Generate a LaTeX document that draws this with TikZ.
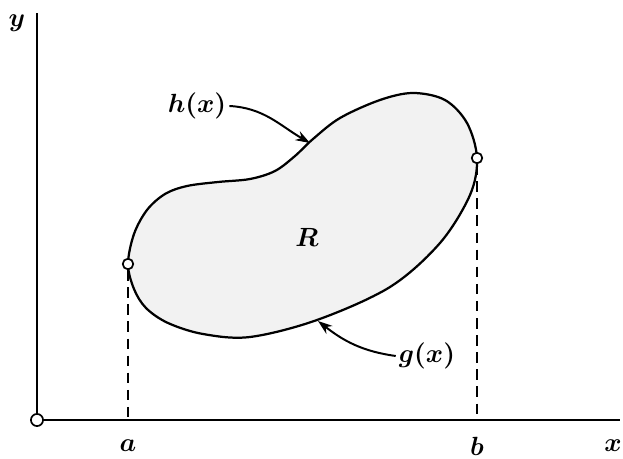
\documentclass[tikz,border=0pt]{standalone}
\usepackage{tikz}
\usetikzlibrary{arrows.meta,positioning}
\tikzset{
  axis/.style    = {line width=1pt},
  rim/.style     = {line width=0.85pt, fill=black!5},
  endpt/.style   = {circle, draw, fill=white, line width=0.65pt, inner sep=0pt,
                    minimum size=4pt},
  drop/.style    = {line width=0.65pt, dash pattern=on 4pt off 2.5pt},
  lbl/.style     = {font=\boldmath, inner sep=1pt},
  ar/.style      = {-{Stealth[length=5.5pt,width=3.8pt]}, line width=0.75pt},
}
\begin{document}
\begin{tikzpicture}[x=0.38pt,y=-0.38pt]
\useasboundingbox (0,0) rectangle (623,459);

% -- region R ----------------------------------------------------------------
\draw[rim] plot[smooth cycle, tension=0.55] coordinates {
  (128,264) (134,234) (147,210) (165,194) (187,186) (218,182) (250,179)
  (275,171) (295,156) (313,139) (340,118) (380,100) (413,93) (445,100)
  (467,123) (477,158) (470,195) (440,243) (390,287) (317,320) (250,337)
  (203,334) (168,323) (146,308) (134,289)};
\node[lbl] (R) at (307,237) {$R$};

% -- axes --------------------------------------------------------------------
\coordinate (ytop) at (37,13);
\coordinate (xend) at (620,420);
\draw[axis] (37,420) -- (ytop);
\draw[axis] (37,420) -- (xend);
\node[endpt, minimum size=4.6pt] (o) at (37,420) {};
\node[lbl] (ylbl) at (17,23) {$y$};
\node[lbl] (xlbl) at (613,446) {$x$};

% -- end points and drops ----------------------------------------------------
\node[endpt] (pa) at (128,264) {};
\node[endpt] (pb) at (477,158) {};
\draw[drop] (pa) -- (pa |- xend);
\draw[drop] (pb) -- (pb |- xend);
\node[lbl] (albl) at (128,446) {$a$};
\node[lbl] (blbl) at (477,446) {$b$};

% -- boundary labels ---------------------------------------------------------
\coordinate (hpt) at (310,143);
\coordinate (gpt) at (318,321);
\node[lbl] (hlbl) at (197,106) {$h(x)$};
\node[lbl] (glbl) at (427,356) {$g(x)$};
\draw[ar] (hlbl.east) to[out=-3,in=150] (hpt);
\draw[ar] (glbl.west) to[out=172,in=-38] (gpt);

\end{tikzpicture}
\end{document}
